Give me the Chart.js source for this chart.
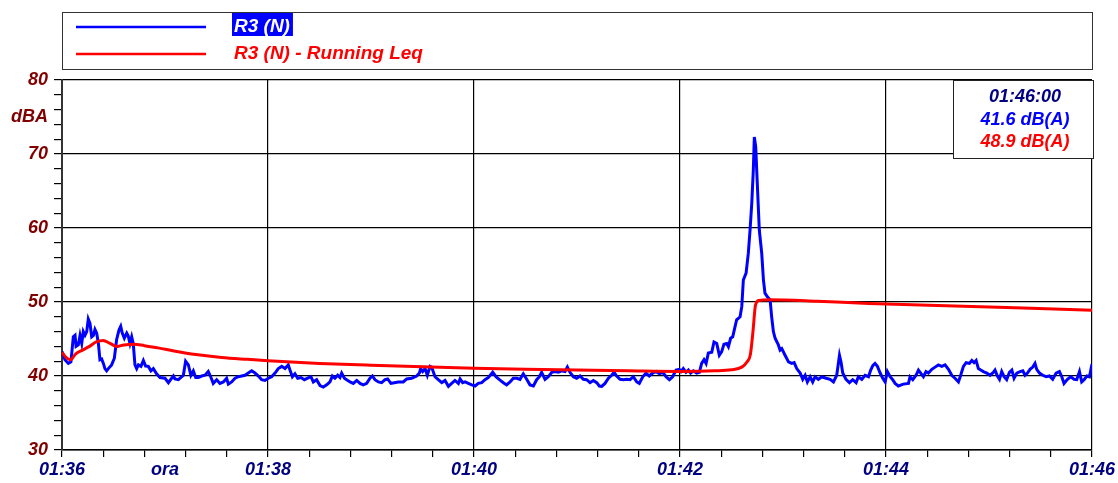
<!DOCTYPE html>
<html>
<head>
<meta charset="utf-8">
<script src="https://cdn.jsdelivr.net/npm/chart.js@4/dist/chart.umd.min.js"></script>
<style>
  html, body { margin: 0; padding: 0; background: #fff; }
  #wrap { width: 1118px; height: 483px; }
</style>
</head>
<body>
<div id="wrap"><canvas id="c" width="1118" height="483"></canvas></div>
<script>
// Measurement start and series
const startTime = '01:36:00';
const durationSec = 600;

const seriesNames = ['R3 (N)', 'R3 (N) - Running Leq'];
const seriesColors = ['#0000ff', '#ff0000'];

// Instantaneous level, dB(A), at elapsed seconds
const levelTimes = [
  0, 1.7, 3.7, 5.2, 6.6, 7.6, 8.2, 9.5, 10.5, 11.5, 12.4, 13.4, 14.4, 15.3, 16.3, 17.3, 18.3, 19.2, 20.2, 21.2,
  22.1, 23.1, 24.1, 25.0, 26.0, 27.0, 28.9, 30.5, 31.8, 33.2, 34.2, 35.1, 36.3, 37.7, 38.6, 39.6, 40.6, 41.5, 42.5, 43.5,
  44.5, 46.0, 47.4, 48.7, 50.3, 51.8, 53.2, 55.1, 57.1, 60.0, 62.0, 63.9, 64.9, 65.8, 67.8, 70.7, 72.0, 73.6, 75.1, 76.5,
  77.9, 79.4, 81.4, 83.3, 85.2, 86.8, 88.1, 90.1, 92.0, 94.0, 95.9, 96.9, 98.8, 100.8, 102.7, 104.7, 106.6, 108.5, 110.5, 112.4,
  114.4, 116.3, 118.2, 120.2, 122.1, 124.1, 126.0, 128.0, 129.9, 131.8, 132.8, 134.2, 135.7, 137.3, 139.2, 141.2, 143.1, 145.0, 146.4, 148.3,
  150.3, 152.2, 154.2, 156.1, 157.5, 159.0, 160.6, 161.9, 162.9, 164.5, 165.8, 167.8, 169.7, 171.7, 173.6, 175.5, 177.5, 179.4, 180.8, 182.3,
  184.3, 186.2, 188.2, 189.7, 191.6, 193.6, 195.9, 198.8, 200.8, 203.7, 206.6, 208.2, 208.9, 210.1, 211.5, 212.8, 214.4, 215.3, 217.3, 219.2,
  221.2, 223.1, 225.1, 227.0, 228.9, 230.9, 231.9, 233.4, 234.8, 236.7, 238.7, 240.6, 242.5, 244.5, 246.4, 248.4, 250.9, 252.8, 254.8, 257.1,
  259.0, 261.0, 262.9, 264.9, 266.8, 268.7, 270.7, 272.6, 274.6, 276.5, 278.1, 279.4, 281.4, 283.3, 285.3, 287.2, 289.1, 291.1, 293.0, 294.4,
  295.9, 297.9, 299.8, 301.8, 303.7, 305.6, 307.6, 309.5, 311.5, 313.0, 314.4, 316.3, 318.3, 320.2, 321.6, 323.1, 325.1, 327.0, 329.0, 330.9,
  332.8, 334.8, 336.3, 338.3, 340.2, 342.1, 344.1, 346.0, 348.0, 349.9, 351.9, 353.8, 355.7, 357.7, 359.6, 360.6, 361.9, 363.5, 364.9, 366.2,
  367.8, 369.7, 371.3, 372.6, 374.0, 375.2, 376.5, 378.5, 379.8, 381.4, 382.9, 384.3, 385.6, 387.2, 388.2, 389.5, 390.7, 392.1, 393.0, 395.0,
  396.0, 396.9, 398.5, 399.8, 400.8, 401.8, 402.7, 403.3, 404.1, 405.1, 406.2, 407.6, 408.6, 409.5, 410.9, 412.5, 413.4, 414.4, 415.4, 417.3,
  418.3, 419.3, 421.2, 423.2, 425.1, 426.5, 428.0, 430.0, 431.5, 432.9, 434.2, 435.8, 437.3, 438.7, 440.6, 442.6, 445.1, 447.4, 449.4, 451.3,
  452.9, 453.8, 454.8, 456.7, 458.7, 460.6, 462.6, 463.9, 465.9, 467.8, 469.8, 471.1, 472.3, 473.6, 475.0, 476.6, 478.1, 479.5, 480.8, 482.4,
  483.9, 485.3, 487.2, 490.1, 493.1, 494.0, 495.6, 497.5, 498.9, 500.2, 501.8, 503.3, 504.7, 506.7, 508.6, 510.5, 512.5, 514.4, 516.4, 518.3,
  520.2, 522.2, 523.5, 525.1, 526.7, 528.6, 530.0, 531.3, 532.5, 533.8, 535.2, 536.7, 538.7, 540.6, 542.2, 543.5, 544.9, 546.1, 547.4, 548.8,
  550.3, 551.9, 553.3, 554.6, 556.2, 558.1, 559.7, 561.0, 562.4, 563.9, 565.5, 566.8, 567.8, 569.4, 571.3, 573.3, 575.2, 577.1, 579.1, 581.0,
  582.4, 583.7, 585.7, 587.6, 589.6, 591.1, 592.7, 594.0, 595.4, 597.0, 598.5, 600
];
const levelValues = [
  43.3, 42.2, 41.7, 41.9, 45.3, 45.5, 44.0, 44.2, 45.5, 44.4, 46.0, 45.5, 46.0, 47.7, 47.1, 45.3, 45.5, 46.3, 45.8, 44.4,
  42.2, 42.3, 41.7, 41.0, 40.7, 41.0, 41.5, 42.4, 44.9, 46.2, 46.7, 45.8, 45.1, 45.8, 45.4, 44.4, 45.3, 44.4, 41.5, 41.0,
  41.5, 41.3, 42.1, 41.35, 41.3, 40.7, 41.0, 40.3, 39.8, 39.7, 39.1, 39.7, 40.0, 39.6, 39.5, 40.1, 42.0, 41.5, 40.1, 40.7,
  39.8, 39.8, 40.0, 40.1, 40.6, 39.8, 39.0, 39.5, 39.0, 39.2, 39.7, 38.9, 39.2, 39.7, 39.9, 40.0, 40.1, 40.4, 40.7, 40.4,
  40.0, 39.5, 39.4, 39.7, 39.9, 40.4, 41.0, 41.3, 41.0, 41.5, 40.8, 39.9, 40.3, 39.7, 39.8, 39.5, 39.7, 39.9, 39.2, 39.5,
  38.7, 38.5, 38.8, 39.2, 40.0, 39.7, 40.1, 39.8, 40.4, 39.7, 39.5, 39.2, 39.0, 39.4, 39.0, 38.8, 39.0, 39.7, 40.0, 39.5,
  39.2, 39.1, 39.5, 39.6, 39.0, 39.1, 39.2, 39.2, 39.6, 39.7, 40.0, 40.4, 41.0, 40.6, 41.0, 40.1, 41.3, 41.2, 39.9, 39.5,
  39.1, 39.4, 38.6, 39.0, 39.4, 39.0, 39.6, 39.1, 39.2, 39.0, 38.8, 38.65, 39.0, 39.1, 39.5, 39.8, 40.5, 39.9, 39.5, 39.1,
  38.8, 39.2, 39.7, 39.7, 39.55, 40.3, 39.55, 38.8, 38.65, 39.5, 39.9, 40.5, 39.55, 39.9, 40.5, 40.6, 40.5, 40.7, 40.6, 41.2,
  40.5, 39.9, 39.7, 40.0, 39.55, 39.5, 39.1, 39.4, 39.1, 38.65, 38.6, 39.0, 39.7, 40.1, 40.5, 40.0, 39.55, 39.5, 39.55, 39.5,
  39.9, 39.2, 39.0, 39.9, 40.4, 40.0, 40.4, 40.6, 40.3, 40.5, 39.9, 39.5, 39.9, 40.8, 40.9, 40.6, 41.0, 40.5, 40.8, 40.4,
  40.7, 40.4, 40.5, 41.7, 42.2, 41.7, 43.1, 43.2, 44.6, 44.4, 42.8, 43.3, 44.3, 44.4, 43.97, 45.1, 45.3, 46.7, 47.6, 48.0,
  49.4, 52.97, 53.9, 56.6, 59.7, 63.3, 67.8, 72.3, 71.0, 65.6, 59.7, 56.6, 53.0, 51.2, 50.7, 50.3, 48.0, 46.0, 45.1, 44.2,
  43.5, 43.7, 42.8, 41.9, 41.7, 41.8, 41.0, 40.4, 39.55, 40.1, 39.2, 39.9, 39.2, 39.9, 39.55, 39.9, 39.7, 39.55, 39.2, 40.1,
  42.8, 41.9, 40.4, 39.55, 39.1, 39.5, 39.1, 39.9, 39.55, 40.1, 39.9, 40.8, 41.4, 41.7, 41.3, 40.4, 39.7, 39.2, 40.6, 39.9,
  39.5, 39.0, 38.65, 38.9, 39.0, 39.9, 39.5, 40.1, 40.8, 40.4, 39.9, 40.6, 40.4, 40.9, 41.2, 41.5, 41.3, 41.5, 40.9, 40.1,
  39.7, 39.2, 40.1, 41.3, 41.8, 41.7, 42.1, 41.8, 42.1, 41.0, 40.8, 40.6, 40.4, 40.1, 40.4, 40.8, 40.0, 39.55, 40.6, 39.9,
  39.5, 40.5, 40.8, 39.7, 40.4, 40.6, 40.7, 40.1, 40.4, 40.9, 41.2, 41.7, 40.9, 40.4, 40.1, 39.9, 40.0, 39.55, 40.4, 40.6,
  39.9, 39.0, 39.55, 39.9, 39.55, 39.5, 40.6, 39.2, 39.5, 40.0, 39.9, 41.6
];

// Running Leq, dB(A), at elapsed seconds
const leqTimes = [
  0, 2, 5, 8, 12, 16, 20, 24, 28, 32, 36, 42, 48, 56, 66, 78, 93, 108, 120, 150,
  180, 210, 240, 270, 300, 330, 360, 380, 390, 396, 399, 401, 402.5, 404, 406, 412, 440, 470, 500, 530,
  560, 600
];
const leqValues = [
  43.2, 42.6, 42.2, 43.0, 43.5, 44.0, 44.6, 44.8, 44.4, 44.0, 44.2, 44.3, 44.1, 43.8, 43.35, 42.9, 42.5, 42.25, 42.07, 41.7,
  41.45, 41.25, 41.05, 40.9, 40.8, 40.7, 40.62, 40.7, 40.85, 41.2, 41.9, 42.9, 46.0, 49.6, 50.2, 50.3, 50.1, 49.8, 49.6, 49.4,
  49.2, 48.9
];

// Axis ranges and tick spacing
const levelMin = 30, levelMax = 80, levelMinorStep = 2, levelMajorStep = 10;
const timeMinorStep = 24, timeMajorStep = 120;
const timeAxisTitle = 'ora';
const timeAxisTitleAt = 60;
const levelAxisTitle = 'dBA';
const levelAxisTitleAt = 75;
const readoutUnit = 'dB(A)';

const FONT_FAMILY = '"Liberation Sans", Arial, Helvetica, sans-serif';
const NAVY = '#000080';
const MAROON = '#800000';

function startSeconds() {
  const p = startTime.split(':').map(Number);
  return p[0] * 3600 + p[1] * 60 + (p[2] || 0);
}
function clock(offset, withSeconds) {
  const s = Math.round(startSeconds() + offset);
  const hh = String(Math.floor(s / 3600) % 24).padStart(2, '0');
  const mm = String(Math.floor(s / 60) % 60).padStart(2, '0');
  const ss = String(s % 60).padStart(2, '0');
  return withSeconds ? hh + ':' + mm + ':' + ss : hh + ':' + mm;
}
function zip(xs, ys) { return xs.map((x, i) => ({ x: x, y: ys[i] })); }
function isMultiple(v, step) { return Math.abs(v / step - Math.round(v / step)) < 1e-6; }

// Boxed legend above the plot
const legendPanel = {
  id: 'legendPanel',
  afterDraw(chart) {
    const ctx = chart.ctx;
    const a = chart.chartArea;
    ctx.save();
    ctx.strokeStyle = '#333';
    ctx.lineWidth = 1;
    ctx.strokeRect(a.left + 0.5, 12.5, a.right - a.left, 57);
    ctx.font = 'italic bold 19px ' + FONT_FAMILY;
    ctx.textBaseline = 'middle';
    chart.data.datasets.forEach((ds, i) => {
      const y = 27 + i * 27;
      ctx.strokeStyle = ds.borderColor;
      ctx.lineWidth = 2.5;
      ctx.beginPath();
      ctx.moveTo(a.left + 14, y);
      ctx.lineTo(a.left + 144, y);
      ctx.stroke();
      const tx = a.left + 172;
      if (i === 0) {
        const w = ctx.measureText(ds.label).width;
        ctx.fillStyle = ds.borderColor;
        ctx.fillRect(tx - 2, y - 14, w + 5, 23);
        ctx.fillStyle = '#fff';
      } else {
        ctx.fillStyle = ds.borderColor;
      }
      ctx.fillText(ds.label, tx, y);
    });
    ctx.restore();
  }
};

// Cursor readout box with values at the end of the record
const readoutBox = {
  id: 'readoutBox',
  afterDatasetsDraw(chart) {
    const ctx = chart.ctx;
    const a = chart.chartArea;
    const w = 140, h = 78;
    const x = a.right - w + 1, y = a.top;
    ctx.save();
    ctx.fillStyle = '#fff';
    ctx.fillRect(x, y, w, h);
    ctx.strokeStyle = '#222';
    ctx.lineWidth = 1;
    ctx.strokeRect(x + 0.5, y + 0.5, w, h);
    ctx.font = 'italic bold 18px ' + FONT_FAMILY;
    ctx.textAlign = 'center';
    ctx.textBaseline = 'middle';
    const cx = x + w / 2 + 2;
    const t = levelTimes[levelTimes.length - 1];
    ctx.fillStyle = NAVY;
    ctx.fillText(clock(t, true), cx, y + 17);
    ctx.fillStyle = seriesColors[0];
    ctx.fillText(levelValues[levelValues.length - 1].toFixed(1) + ' ' + readoutUnit, cx, y + 40);
    ctx.fillStyle = seriesColors[1];
    ctx.fillText(leqValues[leqValues.length - 1].toFixed(1) + ' ' + readoutUnit, cx, y + 62);
    ctx.restore();
  }
};

const tickFont = { family: FONT_FAMILY, size: 18, style: 'italic', weight: 'bold' };

new Chart(document.getElementById('c'), {
  type: 'line',
  data: {
    datasets: [
      {
        label: seriesNames[0],
        data: zip(levelTimes, levelValues),
        borderColor: seriesColors[0],
        borderWidth: 3,
        pointRadius: 0,
        tension: 0,
        order: 2
      },
      {
        label: seriesNames[1],
        data: zip(leqTimes, leqValues),
        borderColor: seriesColors[1],
        borderWidth: 3,
        pointRadius: 0,
        cubicInterpolationMode: 'monotone',
        order: 1
      }
    ]
  },
  options: {
    responsive: false,
    animation: false,
    events: [],
    layout: { padding: { top: 80, right: 26, bottom: 0, left: 0 } },
    plugins: { legend: { display: false }, tooltip: { enabled: false } },
    scales: {
      x: {
        type: 'linear',
        min: 0,
        max: durationSec,
        afterBuildTicks(axis) {
          const ticks = [];
          for (let v = 0; v <= durationSec + 1e-6; v += timeMinorStep) ticks.push({ value: v });
          ticks.push({ value: timeAxisTitleAt });
          ticks.sort((p, q) => p.value - q.value);
          axis.ticks = ticks;
        },
        afterFit(axis) { axis.height = 33; },
        ticks: {
          autoSkip: false,
          maxRotation: 0,
          padding: 2,
          color: NAVY,
          font: tickFont,
          callback(v) {
            if (v === timeAxisTitleAt) return timeAxisTitle;
            return isMultiple(v, timeMajorStep) ? clock(v, false) : '';
          }
        },
        grid: {
          drawTicks: true,
          tickLength: 7,
          lineWidth: 1.2,
          color(ctx) {
            const v = ctx.tick && ctx.tick.value;
            return v !== undefined && isMultiple(v, timeMajorStep) ? '#000' : 'rgba(0,0,0,0)';
          },
          tickColor(ctx) {
            const v = ctx.tick && ctx.tick.value;
            return v === timeAxisTitleAt ? 'rgba(0,0,0,0)' : '#000';
          }
        },
        border: { display: true, color: '#000', width: 1.5 }
      },
      y: {
        type: 'linear',
        min: levelMin,
        max: levelMax,
        afterBuildTicks(axis) {
          const ticks = [];
          for (let v = levelMin; v <= levelMax + 1e-6; v += levelMinorStep) ticks.push({ value: v });
          ticks.push({ value: levelAxisTitleAt });
          ticks.sort((p, q) => p.value - q.value);
          axis.ticks = ticks;
        },
        afterFit(axis) { axis.width = 62; },
        ticks: {
          autoSkip: false,
          padding: 6,
          color: MAROON,
          font: tickFont,
          callback(v) {
            if (v === levelAxisTitleAt) return levelAxisTitle;
            return isMultiple(v, levelMajorStep) ? String(v) : '';
          }
        },
        grid: {
          drawTicks: true,
          tickLength: 8,
          lineWidth: 1.2,
          color(ctx) {
            const v = ctx.tick && ctx.tick.value;
            return v !== undefined && v !== levelAxisTitleAt && isMultiple(v, levelMajorStep) ? '#000' : 'rgba(0,0,0,0)';
          },
          tickColor(ctx) {
            const v = ctx.tick && ctx.tick.value;
            return v === levelAxisTitleAt ? 'rgba(0,0,0,0)' : '#000';
          }
        },
        border: { display: true, color: '#333', width: 2 }
      }
    }
  },
  plugins: [legendPanel, readoutBox]
});
</script>
</body>
</html>
